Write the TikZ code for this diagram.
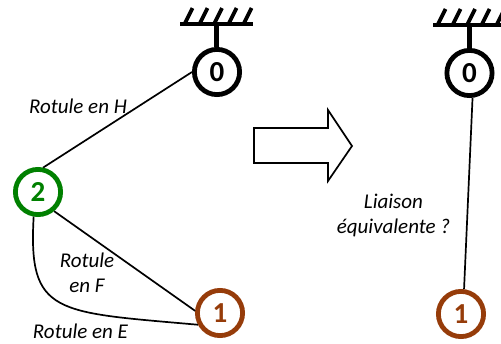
\documentclass[tikz,border=0pt]{standalone}
\usepackage{fontspec}
\setmainfont{Carlito}
\begin{document}
\begin{tikzpicture}[x=1pt,y=-1pt,
  part/.style={circle,draw,line width=4.8pt,minimum size=45.2pt,inner sep=0pt,outer sep=2.4pt,font=\fontsize{29}{29}\selectfont\bfseries},
  lbl/.style={font=\fontsize{21}{25}\selectfont\itshape,align=center,inner sep=0pt},
  link/.style={line width=1.7pt},
  bar/.style={line width=4.6pt},
  hatch/.style={line width=3.8pt},
  stem/.style={line width=4.6pt}]
\useasboundingbox (0,0) rectangle (501,343);
\definecolor{gr}{RGB}{0,128,0}
\definecolor{br}{RGB}{150,60,10}
\node[part] (a0) at (217,72) {0};
\node[part,draw=gr,text=gr] (a2) at (38,192) {2};
\node[part,draw=br,text=br] (a1) at (220,313) {1};
\node[part] (b0) at (469.5,73) {0};
\node[part,draw=br,text=br] (b1) at (461,314) {1};
% ground left
\coordinate (gl) at (216.5,24);
\draw[bar] (180,24) -- (252.5,24);
\draw[stem] (gl) -- (gl |- a0.north);
\foreach \x in {185,200,214.5,229,244}{\draw[hatch] (\x,23) -- (\x+7.5,8);}
% ground right
\coordinate (gr1) at (469.5,25);
\draw[bar] (433,25) -- (506,25);
\draw[stem] (gr1) -- (gr1 |- b0.north);
\foreach \x in {438,453,467.5,482,497}{\draw[hatch] (\x,24) -- (\x+7.5,9);}
% links
\draw[link] (a2.78) -- (a0.west);
\draw[link] (a2.-50) -- (a1.175);
\draw[link] (a2.-100) .. controls (28,315) and (55,312) .. (a1.208);
\draw[link] (b0.-83) -- (b1.83);
% arrow
\draw[line width=1.7pt,line join=miter,fill=white] (254,128) -- (328,128) -- (328,110) -- (352,146) -- (328,181) -- (328,163) -- (254,163) -- cycle;
% labels
\node[lbl] (t1) at (78,106) {Rotule en H};
\node[lbl] (t2) at (87,273) {Rotule\\en F};
\node[lbl] (t3) at (80.5,331) {Rotule en E};
\node[lbl] (t4) at (393.5,215.5) {Liaison\\équivalente ?};
\end{tikzpicture}
\end{document}
